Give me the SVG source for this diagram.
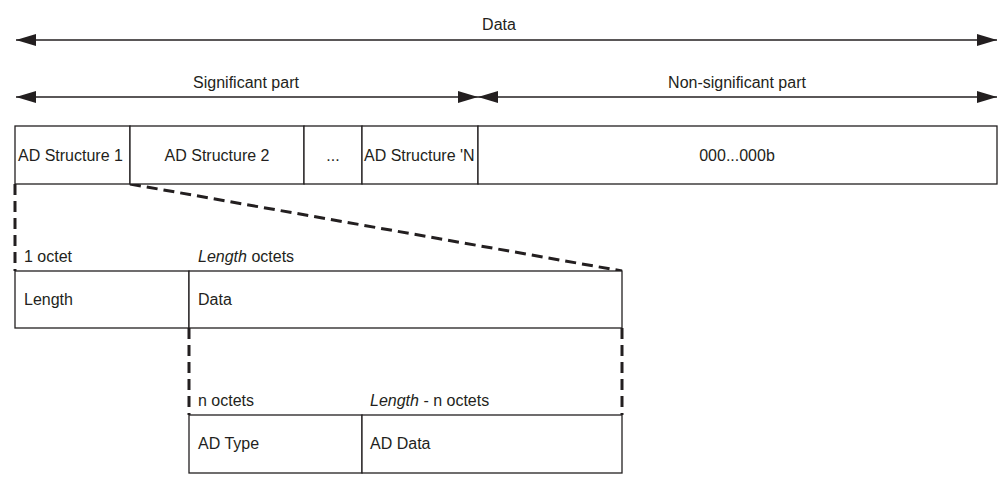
<svg xmlns="http://www.w3.org/2000/svg" width="1007" height="486" viewBox="0 0 1007 486">
<style>
text{font-family:"Liberation Sans",Arial,sans-serif;font-size:16px;fill:#231f20}
.c{text-anchor:middle}
.i{font-style:italic}
.box{fill:#fff;stroke:#231f20;stroke-width:1.3}
.ln{stroke:#231f20;stroke-width:1.3;fill:none}
.dash{stroke:#231f20;stroke-width:3;stroke-dasharray:11 6;fill:none}
</style>
<defs>
<marker id="ah" viewBox="0 0 20 12" refX="20" refY="6" markerWidth="20" markerHeight="12" markerUnits="userSpaceOnUse" orient="auto-start-reverse">
<path d="M0,0 L20,6 L0,12 Z" fill="#231f20"/>
</marker>
</defs>
<rect width="1007" height="486" fill="#fff"/>
<g id="connectors">
<line class="ln" x1="16" y1="40" x2="997" y2="40" marker-start="url(#ah)" marker-end="url(#ah)"/>
<line class="ln" x1="16" y1="97" x2="478" y2="97" marker-start="url(#ah)" marker-end="url(#ah)"/>
<line class="ln" x1="478" y1="97" x2="997" y2="97" marker-start="url(#ah)" marker-end="url(#ah)"/>
<line class="dash" x1="15" y1="184" x2="15" y2="271"/>
<line class="dash" x1="130" y1="184" x2="622" y2="271"/>
<line class="dash" x1="189" y1="328" x2="189" y2="415"/>
<line class="dash" x1="622" y1="328" x2="622" y2="415"/>
</g>
<g id="labels">
<text class="c" x="499" y="30">Data</text>
<text class="c" x="246" y="88">Significant part</text>
<text class="c" x="737" y="88">Non-significant part</text>
</g>
<g id="ad-structure-1"><rect class="box" x="15" y="126" width="115" height="58"/><text x="18" y="161">AD Structure 1</text></g>
<g id="ad-structure-2"><rect class="box" x="130" y="126" width="174" height="58"/><text class="c" x="217" y="161">AD Structure 2</text></g>
<g id="ellipsis"><rect class="box" x="304" y="126" width="58" height="58"/><text class="c" x="333" y="161">...</text></g>
<g id="ad-structure-n"><rect class="box" x="362" y="126" width="116" height="58"/><text x="364" y="161">AD Structure 'N</text></g>
<g id="non-significant"><rect class="box" x="478" y="126" width="519" height="58"/><text class="c" x="737" y="161">000...000b</text></g>
<g id="length"><rect class="box" x="15" y="271" width="174" height="57"/><text x="24" y="305">Length</text><text x="24" y="262">1 octet</text></g>
<g id="data"><rect class="box" x="189" y="271" width="433" height="57"/><text x="198" y="305">Data</text><text x="198" y="262"><tspan class="i">Length</tspan> octets</text></g>
<g id="ad-type"><rect class="box" x="189" y="415" width="173" height="58"/><text x="198" y="449">AD Type</text><text x="198" y="406">n octets</text></g>
<g id="ad-data"><rect class="box" x="362" y="415" width="260" height="58"/><text x="370" y="449">AD Data</text><text x="370" y="406"><tspan class="i">Length</tspan> - n octets</text></g>
</svg>
